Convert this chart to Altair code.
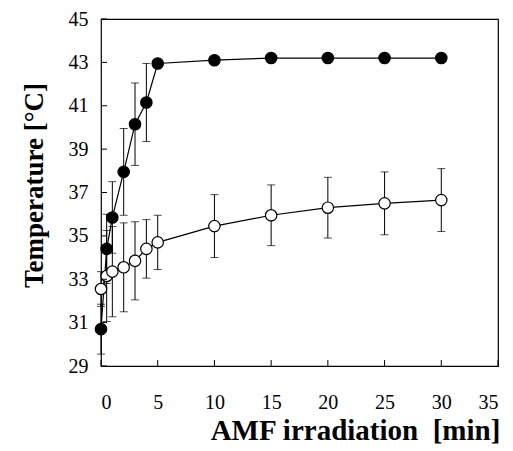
import altair as alt
import pandas as pd

time = [0, 0.5, 1, 2, 3, 4, 5, 10, 15, 20, 25, 30]
filled_mean = [30.7, 34.4, 35.85, 37.95, 40.15, 41.15, 42.95, 43.1, 43.2, 43.2, 43.2, 43.2]
filled_err = [1.15, 1.6, 1.65, 2.0, 1.9, 1.8, 0.0, 0.08, 0.08, 0.08, 0.08, 0.1]
open_mean = [32.55, 33.15, 33.35, 33.55, 33.85, 34.4, 34.7, 35.45, 35.95, 36.3, 36.5, 36.65]
open_err = [0.8, 2.1, 2.08, 2.05, 1.8, 1.35, 1.25, 1.45, 1.4, 1.4, 1.45, 1.45]

x_ticks = [0, 5, 10, 15, 20, 25, 30, 35]
y_ticks = [29, 31, 33, 35, 37, 39, 41, 43, 45]

rows = []
for name, m, e in [("filled", filled_mean, filled_err), ("open", open_mean, open_err)]:
    for t, mv, ev in zip(time, m, e):
        rows.append({"series": name, "t": t, "mean": mv, "lo": mv - ev, "hi": mv + ev})
df = pd.DataFrame(rows)

FONT = "Liberation Serif"
xs = alt.Scale(domain=[0, 35], nice=False, zero=False)
ys = alt.Scale(domain=[29, 45], nice=False, zero=False)

xax = alt.Axis(values=x_ticks, ticks=False, grid=False, labelFontSize=20, labelPadding=26,
               labelFont=FONT, title="AMF irradiation\u00a0\u00a0[min]", titleFont=FONT,
               titleFontSize=29, titleFontWeight="bold", titlePadding=4, domain=False,
               labelColor="black", titleColor="black", titleX=254)
yax = alt.Axis(values=y_ticks, ticks=False, grid=False, labelFontSize=20, labelPadding=13,
               labelFont=FONT, title="Temperature [°C]", titleFont=FONT, titleFontSize=27,
               titleFontWeight="bold", titlePadding=20, domain=False,
               labelColor="black", titleColor="black", titleY=166)

base = alt.Chart(df)

err_rule = base.mark_rule(color="black", strokeWidth=1).encode(
    x=alt.X("t:Q", scale=xs, axis=xax), y=alt.Y("lo:Q", scale=ys, axis=yax), y2="hi:Q")
cap_lo = base.mark_tick(color="black", orient="horizontal", size=8, thickness=1).encode(
    x=alt.X("t:Q", scale=xs), y=alt.Y("lo:Q", scale=ys))
cap_hi = base.mark_tick(color="black", orient="horizontal", size=8, thickness=1).encode(
    x=alt.X("t:Q", scale=xs), y=alt.Y("hi:Q", scale=ys))
line = base.mark_line(color="black", strokeWidth=1.2).encode(
    x=alt.X("t:Q", scale=xs), y=alt.Y("mean:Q", scale=ys), detail="series:N")
pts = base.mark_point(filled=True, size=130, stroke="black", strokeWidth=1.2, opacity=1).encode(
    x=alt.X("t:Q", scale=xs), y=alt.Y("mean:Q", scale=ys),
    fill=alt.Fill("series:N", scale=alt.Scale(domain=["filled", "open"], range=["black", "white"]), legend=None))

ydf = pd.DataFrame({"v": y_ticks})
xdf = pd.DataFrame({"v": x_ticks})
ytick_marks = alt.Chart(ydf).mark_rule(color="black", strokeWidth=1).encode(
    y=alt.Y("v:Q", scale=ys), x=alt.value(0), x2=alt.value(6))
xtick_marks = alt.Chart(xdf).mark_rule(color="black", strokeWidth=1).encode(
    x=alt.X("v:Q", scale=xs), y=alt.value(347), y2=alt.value(341))

chart = alt.layer(err_rule, cap_lo, cap_hi, line, pts, ytick_marks, xtick_marks).properties(
    width=397, height=347, autosize="none",
    padding={"left": 93, "top": 11, "right": 5, "bottom": 84},
    background="white"
).configure_view(stroke="black", strokeWidth=1.2)

chart.save("out.html", embed_options={"renderer": "svg", "actions": False})
